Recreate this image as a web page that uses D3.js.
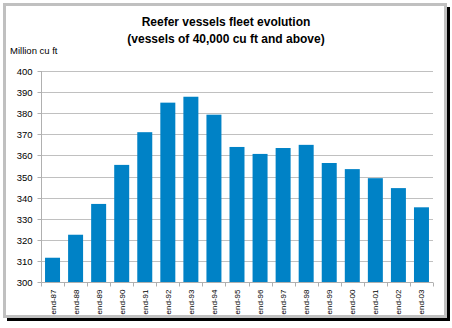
<!DOCTYPE html>
<html><head><meta charset="utf-8">
<script src="https://cdn.jsdelivr.net/npm/d3@7"></script>
<style>
html,body{margin:0;padding:0;background:#fff;}
svg{display:block;font-family:"Liberation Sans",Arial,sans-serif;}
</style></head>
<body><svg id="c" width="452" height="328"></svg>
<script>
const categories = ["end-87","end-88","end-89","end-90","end-91","end-92","end-93","end-94","end-95","end-96","end-97","end-98","end-99","end-00","end-01","end-02","end-03"];
const values = [311.5,322.4,337.0,355.5,371.0,385.0,387.8,379.3,364.0,360.7,363.5,365.0,356.4,353.5,349.2,344.5,335.4];
const yTicks = [300,310,320,330,340,350,360,370,380,390,400];
const titleLines = ["Reefer vessels fleet evolution","(vessels of 40,000 cu ft and above)"];
const yUnit = "Million cu ft";

(function(){
const svg = d3.select("#c");
// frame shadow + border
svg.append("rect").attr("x",7).attr("y",7).attr("width",443).attr("height",314).attr("fill","#000");
svg.append("rect").attr("x",4.5).attr("y",4.5).attr("width",441).attr("height",312)
  .attr("fill","#fff").attr("stroke","#c0c0c0").attr("stroke-width",3);

const pl = 41, pr = 433, pt = 71, pb = 282;
const x = d3.scaleBand().domain(categories).range([pl,pr]).paddingInner(0.35).paddingOuter(0.175);
const y = d3.scaleLinear().domain([300,400]).range([pb,pt]);

// gridlines
svg.append("g").selectAll("line").data(yTicks.slice(1)).join("line")
  .attr("x1",pl).attr("x2",pr).attr("y1",d=>Math.round(y(d))+0.5).attr("y2",d=>Math.round(y(d))+0.5)
  .attr("stroke","#c0c0c0").attr("stroke-width",1);

// bars
svg.append("g").selectAll("rect").data(values).join("rect")
  .attr("x",(d,i)=>x(categories[i])).attr("width",x.bandwidth())
  .attr("y",d=>y(d)).attr("height",d=>pb-y(d)).attr("fill","#0082C6");

// y axis
const yAxis = d3.axisLeft(y).tickValues(yTicks).tickSize(4).tickPadding(5).tickFormat(d3.format("d"));
const gy = svg.append("g").attr("transform",`translate(${pl+0.5},0)`).call(yAxis);
gy.select(".domain").attr("stroke","#b0b0b0").attr("d",`M0,${pt}V${pb}`);
gy.selectAll(".tick line").attr("stroke","#b0b0b0");
gy.selectAll(".tick").attr("transform",d=>`translate(0,${Math.round(y(d))+0.5})`);
gy.selectAll("text").attr("font-size",9.5).attr("fill","#000").attr("font-family","Liberation Sans, Arial, sans-serif");

// x axis
const gx = svg.append("g").attr("transform",`translate(0,${pb+0.5})`);
gx.append("line").attr("x1",pl).attr("x2",pr).attr("stroke","#b0b0b0");
const bounds = categories.map(c=>x(c)-x.step()*x.paddingInner()/2).concat([pr]);
gx.selectAll("line.t").data(bounds).join("line").attr("class","t")
  .attr("x1",d=>Math.round(d)+0.5).attr("x2",d=>Math.round(d)+0.5).attr("y1",0).attr("y2",4).attr("stroke","#b0b0b0");
gx.selectAll("text").data(categories).join("text")
  .attr("transform",d=>`translate(${x(d)+x.bandwidth()/2+3},7) rotate(-90)`)
  .attr("text-anchor","end").attr("font-size",8).attr("fill","#000").text(d=>d);

// titles
svg.append("g").selectAll("text").data(titleLines).join("text")
  .attr("x",226).attr("y",(d,i)=>26+i*17).attr("text-anchor","middle")
  .attr("font-size",12).attr("font-weight","bold").attr("fill","#000").text(d=>d);
svg.append("text").attr("x",10).attr("y",54).attr("font-size",9.5).attr("fill","#000").text(yUnit);
})();
</script></body></html>
